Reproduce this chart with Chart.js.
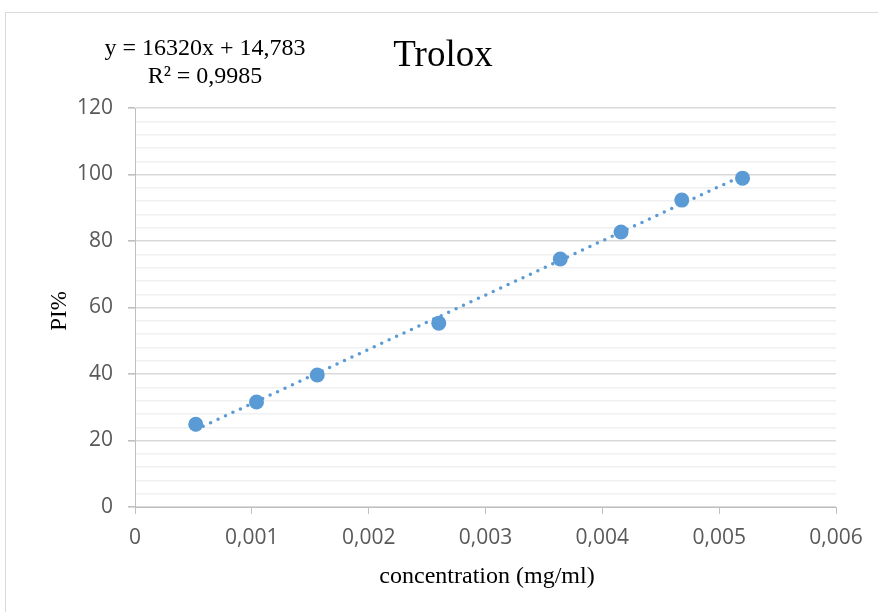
<!DOCTYPE html>
<html>
<head>
<meta charset="utf-8">
<title>Trolox</title>
<script src="https://cdn.jsdelivr.net/npm/chart.js@4/dist/chart.umd.min.js"></script>
<style>
  html, body { margin: 0; padding: 0; background: #fff; }
  #wrap { width: 878px; height: 612px; }
</style>
</head>
<body>
<div id="wrap"><canvas id="trolox" width="878" height="612"></canvas></div>
<script>
// concentration (mg/ml) vs inhibition PI%
const concentration = [0.00052, 0.00104, 0.00156, 0.0026, 0.00364, 0.00416, 0.00468, 0.0052];
const piPercent = [24.9, 31.6, 39.7, 55.3, 74.6, 82.7, 92.3, 98.9];

// linear fit printed on the chart
const slope = 16320;
const intercept = 14.783;
const rSquared = "0,9985";

const xTicks = [0, 0.001, 0.002, 0.003, 0.004, 0.005, 0.006];
const yTicks = [0, 20, 40, 60, 80, 100, 120];

const blue = "#5B9BD5";
const tickFont = { family: "'Open Sans', 'Noto Sans', sans-serif", size: 21 };
const serif = "'Liberation Serif', 'DejaVu Serif', serif";

const points = concentration.map((c, i) => ({ x: c, y: piPercent[i] }));
const xFirst = concentration[0];
const xLast = concentration[concentration.length - 1];
const trend = [
  { x: xFirst, y: slope * xFirst + intercept },
  { x: xLast, y: slope * xLast + intercept },
];

function commaFmt(v) {
  if (v === 0) return "0";
  return v.toFixed(3).replace(".", ",");
}

// frame and the free text (title, equation, axis titles)
const textPlugin = {
  id: "texts",
  beforeDraw(chart) {
    const c = chart.ctx;
    c.save();
    c.fillStyle = "#fff";
    c.fillRect(0, 0, chart.width, chart.height);
    c.strokeStyle = "#d9d9d9";
    c.lineWidth = 1;
    c.strokeRect(5.5, 12.5, chart.width + 10, chart.height + 10);
    c.restore();
  },
  afterDraw(chart) {
    const c = chart.ctx;
    c.save();
    c.fillStyle = "#000";
    c.textAlign = "center";
    c.textBaseline = "middle";

    c.font = "37px " + serif;
    c.fillText("Trolox", 443, 56);

    c.font = "24px " + serif;
    c.fillText("y = " + slope + "x + " + String(intercept).replace(".", ","), 205, 49);
    c.fillText("R\u00B2 = " + rSquared, 205, 77);

    c.fillText("concentration (mg/ml)", 487, 577);

    c.font = "23px " + serif;
    c.translate(60, 311);
    c.rotate(-Math.PI / 2);
    c.fillText("PI%", 0, 0);
    c.restore();
  },
};

new Chart(document.getElementById("trolox"), {
  type: "scatter",
  data: {
    datasets: [
      {
        label: "PI%",
        data: points,
        backgroundColor: blue,
        borderColor: blue,
        pointRadius: 7.5,
        pointBorderWidth: 0,
        showLine: false,
        order: 2,
      },
      {
        label: "trend",
        data: trend,
        showLine: true,
        borderColor: blue,
        borderWidth: 3.5,
        borderDash: [0, 8.2],
        borderCapStyle: "round",
        pointRadius: 0,
        fill: false,
        order: 1,
      },
    ],
  },
  options: {
    responsive: false,
    animation: false,
    layout: { padding: { left: 0, top: 108, right: 42, bottom: 0 } },
    plugins: {
      legend: { display: false },
      tooltip: { enabled: false },
    },
    scales: {
      x: {
        type: "linear",
        min: 0,
        max: 0.006,
        afterFit: (s) => { s.height = 105; },
        afterBuildTicks: (s) => { s.ticks = xTicks.map((v) => ({ value: v })); },
        ticks: {
          callback: (v) => commaFmt(v),
          font: tickFont,
          color: "#595959",
          padding: 11,
          maxRotation: 0,
          autoSkip: false,
        },
        grid: { drawOnChartArea: false, tickLength: 7, color: "#bfbfbf" },
        border: { color: "#bfbfbf", width: 1 },
      },
      y: {
        min: 0,
        max: 120,
        afterFit: (s) => { s.width = 135; },
        ticks: {
          stepSize: 4,
          autoSkip: false,
          callback: (v) => (yTicks.includes(v) ? String(v) : ""),
          font: tickFont,
          color: "#595959",
          padding: 15,
        },
        grid: {
          tickLength: 7,
          color: (ctx) => (ctx.tick && ctx.tick.value % 20 === 0 ? "#d9d9d9" : "#f0f0f0"),
          lineWidth: (ctx) => (ctx.tick && ctx.tick.value % 20 === 0 ? 1.6 : 1.4),
          tickColor: (ctx) => (ctx.tick && ctx.tick.value % 20 === 0 ? "#bfbfbf" : "rgba(0,0,0,0)"),
        },
        border: { color: "#bfbfbf", width: 1 },
      },
    },
  },
  plugins: [textPlugin],
});
</script>
</body>
</html>
